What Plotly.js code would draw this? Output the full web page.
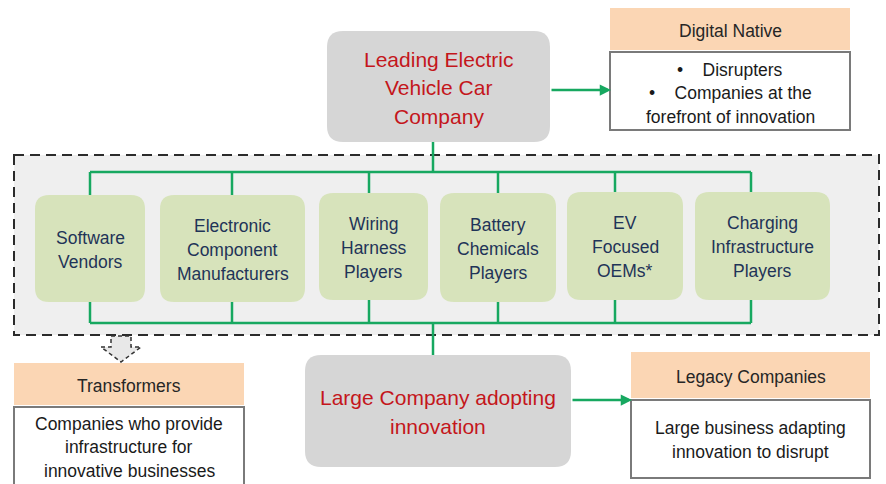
<!DOCTYPE html>
<html>
<head>
<meta charset="utf-8">
<script src="https://cdn.plot.ly/plotly-3.0.1.min.js"></script>
<style>html,body{margin:0;padding:0;background:#fff;}#chart{width:886px;height:484px;}</style>
</head>
<body>
<div id="chart"></div>
<script>
// ---- content ----
const hubLabels = ["Leading Electric<br>Vehicle Car<br>Company", "Large Company adopting<br>innovation"];
const segmentLabels = [
  "Software<br>Vendors",
  "Electronic<br>Component<br>Manufacturers",
  "Wiring<br>Harness<br>Players",
  "Battery<br>Chemicals<br>Players",
  "EV<br>Focused<br>OEMs*",
  "Charging<br>Infrastructure<br>Players"
];
const typeTitles = ["Digital Native", "Transformers", "Legacy Companies"];
const NB = "\u00A0\u00A0\u00A0\u00A0";
const typeDescriptions = [
  "\u2022" + NB + "Disrupters<br>\u2022" + NB + "Companies at the<br>forefront of innovation",
  "Companies who provide<br>infrastructure for<br>innovative businesses",
  "Large business adapting<br>innovation to disrupt"
];

// ---- geometry (layout only) ----
const segBoxes = [[35,145,195,302],[160,305,195,302],[319,428,193,300],[440,556,193,302],[567,683,192,300],[695,830,192,300]];
const segStems = [90,232,369,498,615,751];
const hubBoxes = [[327,550,31,142],[305,571,355,467]];
const typeHead = [[610,850,8,50],[14,244,363,405],[631,870,352,398]];
const typeBody = [[610,850,52,130],[14,244,407,492],[631,870,400,478]];
const typeBodyY = [93,447,440];

const GREEN = "#17a860";
const FONT = "Liberation Sans, Arial, sans-serif";

function rrect(x0,x1,y0,y1,r){
  return `M${x0+r},${y0} L${x1-r},${y0} Q${x1},${y0} ${x1},${y0+r} L${x1},${y1-r} Q${x1},${y1} ${x1-r},${y1} L${x0+r},${y1} Q${x0},${y1} ${x0},${y1-r} L${x0},${y0+r} Q${x0},${y0} ${x0+r},${y0} Z`;
}

const shapes = [];
const annotations = [];

function addText(x, yc, text, size, color, gap){
  const lines = text.split("<br>");
  const n = lines.length;
  lines.forEach((ln,k)=>{
    annotations.push({x:x,y:yc+(k-(n-1)/2)*gap,text:ln,showarrow:false,xanchor:"center",yanchor:"middle",font:{family:FONT,size:size,color:color}});
  });
}

// dashed container
shapes.push({type:"rect",x0:14,x1:879,y0:155,y1:335,fillcolor:"#efefef",line:{color:"#2b2b2b",width:2,dash:"10px,6px"},layer:"below"});

// green connectors
const gl = {color:GREEN,width:2.5};
shapes.push({type:"line",x0:433,x1:433,y0:142,y1:172,line:gl});
shapes.push({type:"line",x0:segStems[0],x1:segStems[5],y0:172,y1:172,line:gl});
shapes.push({type:"line",x0:segStems[0],x1:segStems[5],y0:323,y1:323,line:gl});
shapes.push({type:"line",x0:433,x1:433,y0:323,y1:355,line:gl});
segStems.forEach((sx,i)=>{
  shapes.push({type:"line",x0:sx,x1:sx,y0:172,y1:segBoxes[i][2],line:gl});
  shapes.push({type:"line",x0:sx,x1:sx,y0:segBoxes[i][3],y1:323,line:gl});
});

// segment boxes
segBoxes.forEach((b,i)=>{
  shapes.push({type:"path",path:rrect(b[0],b[1],b[2],b[3],14),fillcolor:"#d7e3bb",line:{width:0}});
  addText((b[0]+b[1])/2,(b[2]+b[3])/2+1,segmentLabels[i],17.5,"#1f3458",24);
});

// hub boxes
hubBoxes.forEach((b,i)=>{
  shapes.push({type:"path",path:rrect(b[0],b[1],b[2],b[3],16),fillcolor:"#d6d6d6",line:{width:0}});
  addText((b[0]+b[1])/2,(b[2]+b[3])/2+1,hubLabels[i],21,"#c4161c",28.5);
});

// type boxes
typeHead.forEach((b,i)=>{
  shapes.push({type:"rect",x0:b[0],x1:b[1],y0:b[2],y1:b[3],fillcolor:"#fbd6b4",line:{width:0}});
  addText((b[0]+b[1])/2,(b[2]+b[3])/2+2,typeTitles[i],17.5,"#262626",24);
  const d = typeBody[i];
  shapes.push({type:"rect",x0:d[0],x1:d[1],y0:d[2],y1:d[3],fillcolor:"#ffffff",line:{color:"#7a7a7a",width:2}});
  addText((d[0]+d[1])/2,typeBodyY[i],typeDescriptions[i],17.5,"#1a1a1a",23.5);
});

// green arrows
[[550,611,90],[571,632,400]].forEach(a=>{
  annotations.push({x:a[1],y:a[2],ax:a[0],ay:a[2],axref:"x",ayref:"y",xref:"x",yref:"y",text:"",showarrow:true,arrowhead:2,arrowsize:0.9,arrowwidth:2.5,arrowcolor:GREEN,standoff:0,startstandoff:0});
});

// dashed block arrow toward Transformers
shapes.push({type:"path",path:"M111,336 L131,336 L131,347 L141,347 L121,362 L101,347 L111,347 Z",fillcolor:"#e8e8e8",line:{color:"#333333",width:1.5,dash:"4px,3px"}});

shapes.forEach(s=>{s.xref="x";s.yref="y";});

const layout = {
  width:886,height:484,
  margin:{l:0,r:0,t:0,b:0},
  paper_bgcolor:"#ffffff",plot_bgcolor:"#ffffff",
  xaxis:{range:[0,886],visible:false,fixedrange:true},
  yaxis:{range:[484,0],visible:false,fixedrange:true},
  shapes:shapes,annotations:annotations,showlegend:false
};
Plotly.newPlot("chart",[{x:[],y:[],type:"scatter"}],layout,{staticPlot:true,displayModeBar:false});
</script>
</body>
</html>
